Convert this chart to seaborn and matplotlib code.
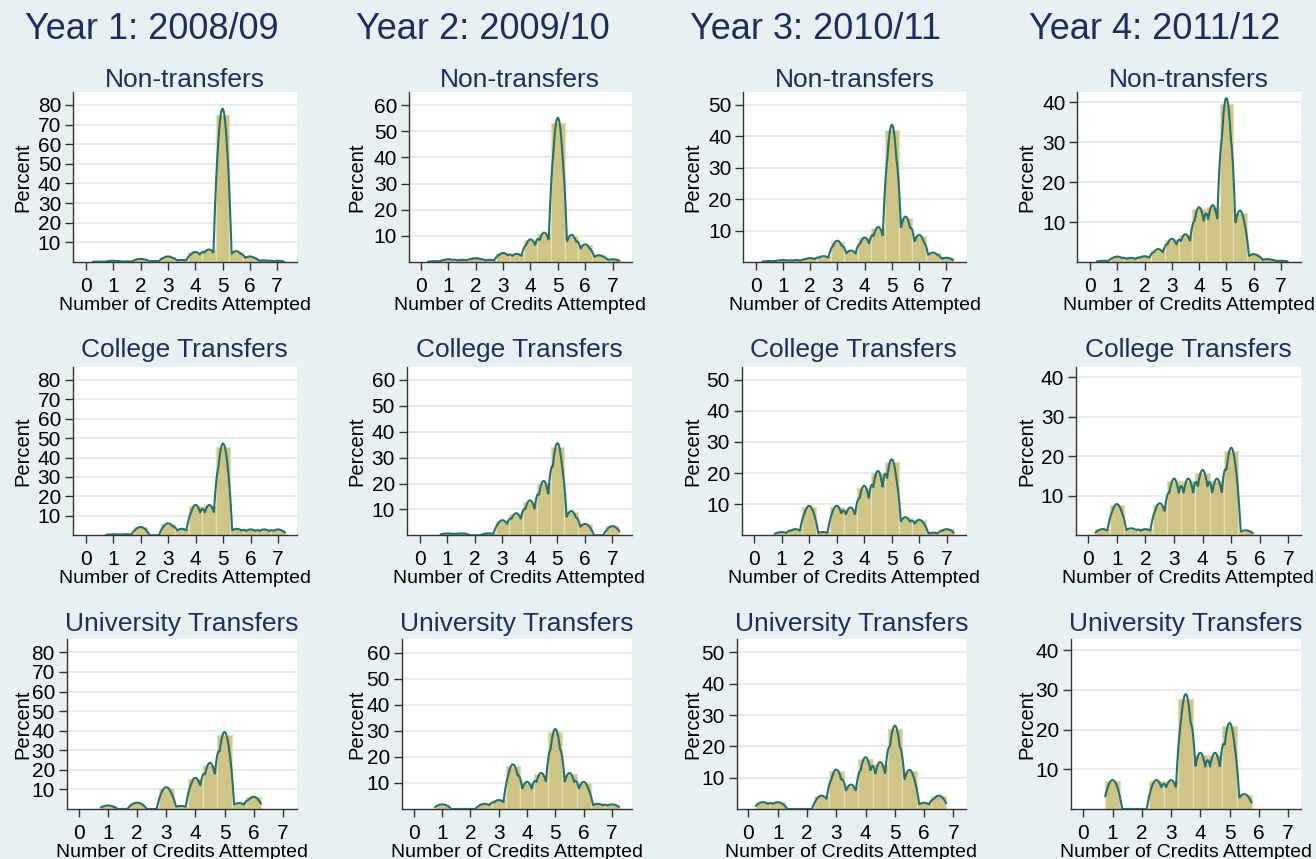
import numpy as np
import pandas as pd
import matplotlib
matplotlib.use("Agg")
import matplotlib.pyplot as plt
import seaborn as sns

# bin centres (credits), bins are 0.5 wide
CREDITS = [0.5, 1.0, 1.5, 2.0, 2.5, 3.0, 3.5, 4.0, 4.5, 5.0, 5.5, 6.0, 6.5, 7.0]

YEARS  = ["Year 1: 2008/09", "Year 2: 2009/10", "Year 3: 2010/11", "Year 4: 2011/12"]
GROUPS = ["Non-transfers", "College Transfers", "University Transfers"]

# percent of students per bin
Y1_NON = [0.2, 0.6, 0.3, 1.5, 0.5, 2.7, 1.0, 4.9, 6.1, 75.0, 5.3, 2.7, 0.8, 0.6]
Y1_COL = [0.0, 0.5, 0.5, 4.1, 0.0, 5.9, 3.2, 15.0, 15.0, 45.4, 3.2, 2.9, 2.9, 2.9]
Y1_UNI = [0.0, 1.7, 0.0, 3.1, 0.0, 10.7, 1.5, 15.3, 22.7, 37.8, 2.9, 6.0, 0.0, 0.0]

Y2_NON = [0.3, 1.0, 0.8, 1.4, 0.8, 3.3, 3.0, 8.3, 10.8, 53.0, 10.0, 6.5, 2.5, 1.0]
Y2_COL = [0.0, 0.7, 0.7, 0.0, 0.7, 5.6, 8.2, 13.0, 20.2, 34.2, 9.0, 4.2, 0.0, 3.4]
Y2_UNI = [0.0, 1.7, 0.0, 0.0, 1.9, 3.3, 16.5, 10.0, 13.3, 29.5, 13.3, 10.0, 1.9, 1.7]

Y3_NON = [0.3, 0.6, 0.6, 1.2, 1.8, 6.5, 3.5, 7.5, 10.7, 42.0, 13.9, 8.3, 2.9, 1.3]
Y3_COL = [0.0, 1.0, 1.9, 9.1, 1.0, 9.1, 8.6, 15.3, 19.9, 23.5, 5.6, 4.8, 0.8, 1.9]
Y3_UNI = [2.1, 2.1, 0.0, 0.0, 4.1, 12.1, 7.5, 15.9, 14.4, 25.6, 12.0, 1.9, 4.1, 0.0]

Y4_NON = [0.3, 1.3, 1.0, 1.4, 3.1, 5.6, 6.7, 13.2, 13.7, 39.5, 12.4, 1.9, 0.7, 0.3]
Y4_COL = [1.5, 7.6, 1.7, 1.5, 7.8, 13.8, 13.8, 15.9, 13.8, 21.3, 1.2, 0.0, 0.0, 0.0]
Y4_UNI = [0.0, 7.0, 0.0, 0.0, 7.0, 7.0, 27.8, 13.6, 13.6, 20.8, 3.6, 0.0, 0.0, 0.0]

PANELS = [
    [Y1_NON, Y2_NON, Y3_NON, Y4_NON],
    [Y1_COL, Y2_COL, Y3_COL, Y4_COL],
    [Y1_UNI, Y2_UNI, Y3_UNI, Y4_UNI],
]
YMAX  = [86.7, 65.1, 54.2, 42.7]
YTOPS = [80, 60, 50, 40]

# layout (pixels on a 1316x859 canvas)
W, H = 1316, 859
ROW_TOP = [91.7, 366.7, 639.3]
ROW_BOT = [262.0, 535.3, 809.0]
LEFTS = [[73.0, 409.0, 743.3, 1077.3],
         [72.7, 406.7, 741.7, 1076.0],
         [66.7, 401.7, 736.7, 1070.7]]
RIGHTS = [297.0, 631.7, 966.0, 1300.7]
XLIMS = [[(-0.48, 7.73), (-0.44, 7.70), (-0.45, 7.72), (-0.47, 7.73)],
         [(-0.47, 7.69), (-0.48, 7.70), (-0.45, 7.70), (-0.43, 7.43)],
         [(-0.42, 7.49), (-0.43, 7.70), (-0.40, 7.43), (-0.43, 7.43)]]
YEAR_X = [152, 483, 816, 1155]
YLAB_X = [32, 366, 702, 1036]
TITLE_BASE = [87, 357, 631]
XLAB_BASE = [310, 583, 857]

BG      = "#e8f0f2"
BAR     = "#cdc486"
BAR_EDG = "#e4dfbc"
LINE    = "#27706b"
NAVY    = "#1e2e5c"
GRID    = "#e3ecef"


def smooth_curve(values):
    # small compact-kernel smoother over the bar heights (density overlay)
    c = np.asarray(CREDITS)
    h = np.asarray(values)
    nz = np.nonzero(h)[0]
    x = np.arange(c[nz[0]] - 0.25, c[nz[-1]] + 0.2501, 0.01)
    u = (x[:, None] - c[None, :]) / 0.25
    k = 1.04 * np.clip(1 - (u / 1.33) ** 2, 0, None)
    return x, k @ h


sns.set_theme(style="white")
plt.rcParams["font.family"] = ["Liberation Sans", "DejaVu Sans"]

fig = plt.figure(figsize=(W / 100, H / 100), dpi=100, facecolor=BG)

for j, year in enumerate(YEARS):
    fig.text(YEAR_X[j] / W, 1 - 39 / H, year, ha="center", va="baseline",
             fontsize=26, color=NAVY)

for i, group in enumerate(GROUPS):
    for j in range(4):
        l, r = LEFTS[i][j], RIGHTS[j]
        t, b = ROW_TOP[i], ROW_BOT[i]
        ax = fig.add_axes([l / W, 1 - b / H, (r - l) / W, (b - t) / H])
        ax.set_facecolor("white")
        df = pd.DataFrame({"credits": CREDITS, "pct": PANELS[i][j]})

        sns.histplot(data=df, x="credits", weights="pct", binwidth=0.5,
                     binrange=(0.25, 7.25), stat="count",
                     color=BAR, alpha=1, edgecolor=BAR_EDG, linewidth=0.9,
                     ax=ax, zorder=2)
        xs, ys = smooth_curve(df["pct"])
        sns.lineplot(x=xs, y=ys, color=LINE, linewidth=1.5, ax=ax,
                     estimator=None, sort=False, zorder=3)

        ax.set_xlim(*XLIMS[i][j])
        ax.set_ylim(0, YMAX[j])
        ax.set_xticks(range(8))
        ax.set_yticks(range(10, YTOPS[j] + 1, 10))
        ax.yaxis.grid(True, color=GRID, linewidth=1.3, zorder=0)
        ax.set_axisbelow(True)
        for s in ["top", "right"]:
            ax.spines[s].set_visible(False)
        for s in ["left", "bottom"]:
            ax.spines[s].set_color("#333333")
            ax.spines[s].set_linewidth(1.0)
        ax.tick_params(axis="x", length=5.5, width=1, color="#333333",
                       pad=5, labelsize=15, labelcolor="black", bottom=True)
        ax.tick_params(axis="y", length=6, width=1, color="#333333",
                       pad=2.5, labelsize=15, labelcolor="black", left=True)

        ax.set_ylabel("Percent", fontsize=14.5, color="black")
        ax.yaxis.set_label_coords((YLAB_X[j] - l) / (r - l), 0.5)
        ax.set_xlabel("Number of Credits Attempted", fontsize=14, color="black")
        ax.xaxis.label.set_va("baseline")
        ax.xaxis.set_label_coords(0.5, (b - XLAB_BASE[i]) / (b - t))

        fig.text((l + r) / 2 / W, 1 - TITLE_BASE[i] / H, group,
                 ha="center", va="baseline", fontsize=19, color=NAVY)

fig.savefig("out.png", dpi=100, facecolor=BG)
